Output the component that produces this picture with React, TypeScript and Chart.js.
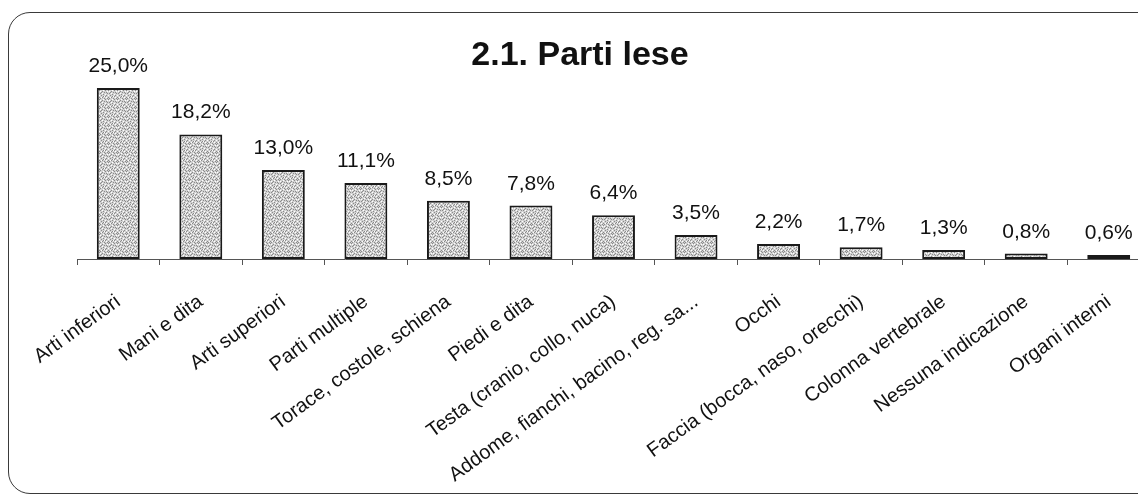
import React, { useEffect, useRef } from "react";
import { Chart, registerables } from "chart.js";

Chart.register(...registerables);

const categories: string[] = [
  "Arti inferiori",
  "Mani e dita",
  "Arti superiori",
  "Parti multiple",
  "Torace, costole, schiena",
  "Piedi e dita",
  "Testa (cranio, collo, nuca)",
  "Addome, fianchi, bacino, reg. sa...",
  "Occhi",
  "Faccia (bocca, naso, orecchi)",
  "Colonna vertebrale",
  "Nessuna indicazione",
  "Organi interni",
];

const percentages: number[] = [25.0, 18.2, 13.0, 11.1, 8.5, 7.8, 6.4, 3.5, 2.2, 1.7, 1.3, 0.8, 0.6];

const chartTitle = "2.1. Parti lese";

const FONT = "'Liberation Sans', Arial, Helvetica, sans-serif";

// Speckled grey fill for the bars, built from a small fixed tile.
function makeStipple(ctx: CanvasRenderingContext2D): CanvasPattern | string {
  const size = 9;
  const tile = document.createElement("canvas");
  tile.width = size;
  tile.height = size;
  const t = tile.getContext("2d");
  if (!t) return "#bdbdbd";
  t.fillStyle = "#d2d2d2";
  t.fillRect(0, 0, size, size);
  const dark = [
    [0, 0], [3, 1], [6, 0], [1, 3], [5, 2], [8, 3], [2, 5], [4, 4], [7, 5],
    [0, 7], [3, 7], [6, 6], [8, 8], [5, 8], [1, 8], [4, 6], [7, 2], [2, 2],
  ];
  t.fillStyle = "#8a8a8a";
  dark.forEach(([x, y]) => t.fillRect(x, y, 1, 1));
  const light = [[1, 1], [4, 0], [7, 7], [2, 7], [6, 4], [0, 5], [3, 3], [8, 1], [5, 6]];
  t.fillStyle = "#ffffff";
  light.forEach(([x, y]) => t.fillRect(x, y, 1, 1));
  return ctx.createPattern(tile, "repeat") || "#bdbdbd";
}

const valueLabels = {
  id: "valueLabels",
  afterDatasetsDraw(chart: any) {
    const ctx: CanvasRenderingContext2D = chart.ctx;
    const meta = chart.getDatasetMeta(0);
    ctx.save();
    ctx.font = `21px ${FONT}`;
    ctx.fillStyle = "#111";
    ctx.textAlign = "center";
    ctx.textBaseline = "alphabetic";
    meta.data.forEach((bar: any, i: number) => {
      const v = chart.data.datasets[0].data[i] as number;
      const text = v.toFixed(1).replace(".", ",") + "%";
      ctx.fillText(text, bar.x, bar.y - 16);
    });
    ctx.restore();
  },
};

const titleDraw = {
  id: "titleDraw",
  afterDraw(chart: any) {
    const ctx: CanvasRenderingContext2D = chart.ctx;
    ctx.save();
    ctx.font = `bold 34px ${FONT}`;
    ctx.fillStyle = "#111";
    ctx.textAlign = "center";
    ctx.textBaseline = "alphabetic";
    ctx.fillText(chartTitle, 580, 65);
    ctx.restore();
  },
};

export default function App() {
  const canvasRef = useRef<HTMLCanvasElement | null>(null);

  useEffect(() => {
    const canvas = canvasRef.current;
    if (!canvas) return;
    const ctx = canvas.getContext("2d");
    if (!ctx) return;
    const fill = makeStipple(ctx);

    const chart = new Chart(canvas, {
      type: "bar",
      data: {
        labels: categories,
        datasets: [
          {
            data: percentages,
            backgroundColor: fill as any,
            borderColor: "#1a1a1a",
            borderWidth: 2,
            borderSkipped: false,
            categoryPercentage: 1,
            barPercentage: 0.52,
          },
        ],
      },
      options: {
        animation: false,
        responsive: false,
        maintainAspectRatio: false,
        layout: { padding: { left: 77, right: 10, top: 40, bottom: 0 } },
        plugins: {
          legend: { display: false },
          tooltip: { enabled: false },
          title: { display: false },
        },
        scales: {
          x: {
            offset: true,
            grid: {
              display: true,
              offset: true,
              drawOnChartArea: false,
              drawTicks: true,
              tickLength: 6,
              color: "#555",
            },
            border: { display: true, color: "#555", width: 1 },
            ticks: {
              autoSkip: false,
              maxRotation: 36,
              minRotation: 36,
              padding: 25,
              color: "#111",
              font: { family: FONT, size: 20 },
            },
            afterFit(scale: any) {
              scale.height = 238;
            },
          },
          y: {
            display: false,
            min: 0,
            max: 32,
          },
        },
      },
      plugins: [valueLabels, titleDraw],
    });

    return () => chart.destroy();
  }, []);

  return (
    <div
      style={{
        position: "fixed",
        left: 0,
        top: 0,
        width: 1138,
        height: 497,
        overflow: "hidden",
        background: "#fff",
      }}
    >
      <div
        style={{
          position: "absolute",
          left: 8,
          top: 12,
          width: 1200,
          height: 482,
          boxSizing: "border-box",
          border: "1.5px solid #3a3a3a",
          borderRadius: 22,
        }}
      />
      <canvas
        ref={canvasRef}
        width={1160}
        height={497}
        style={{ position: "absolute", left: 0, top: 0, width: 1160, height: 497 }}
      />
    </div>
  );
}
